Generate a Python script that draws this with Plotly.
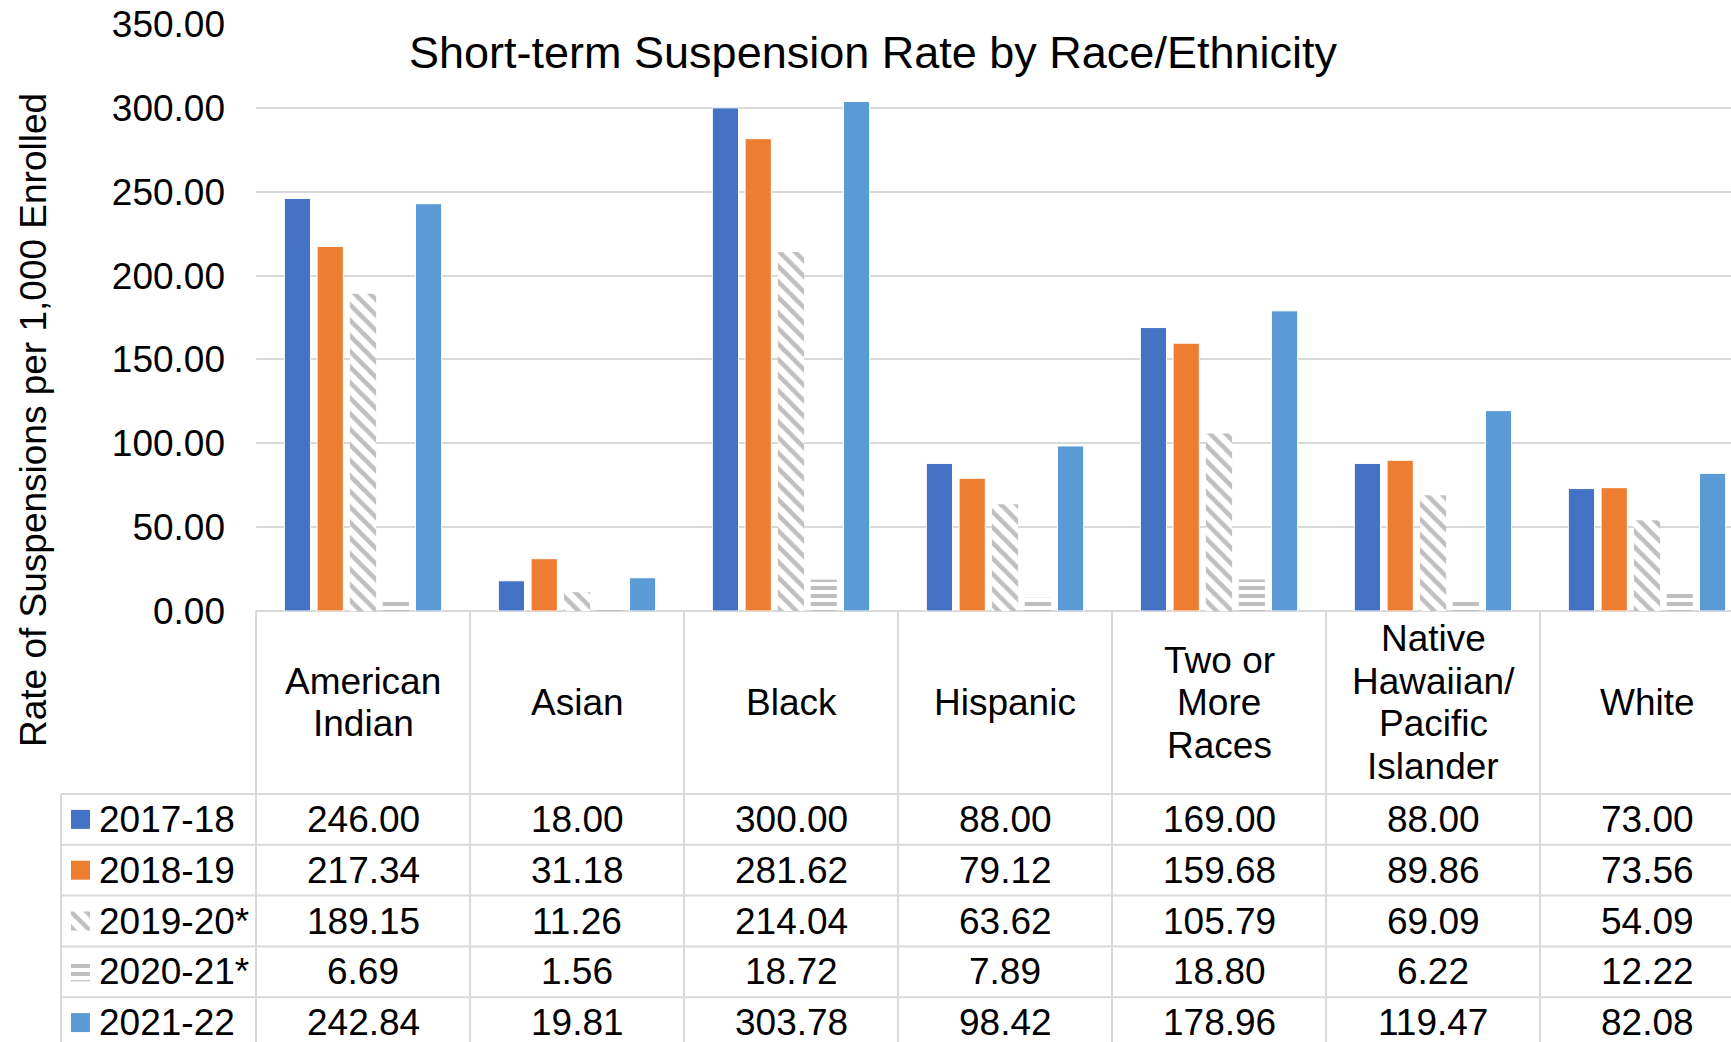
import plotly.graph_objects as go

# ---------------- data ----------------
categories = ["American Indian", "Asian", "Black", "Hispanic",
              "Two or More Races", "Native Hawaiian/Pacific Islander", "White"]
header_labels = ["American<br>Indian", "Asian", "Black", "Hispanic",
                 "Two or<br>More<br>Races", "Native<br>Hawaiian/<br>Pacific<br>Islander", "White"]
years = ["2017-18", "2018-19", "2019-20*", "2020-21*", "2021-22"]

rate_2017_18 = [246.00, 18.00, 300.00, 88.00, 169.00, 88.00, 73.00]
rate_2018_19 = [217.34, 31.18, 281.62, 79.12, 159.68, 89.86, 73.56]
rate_2019_20 = [189.15, 11.26, 214.04, 63.62, 105.79, 69.09, 54.09]
rate_2020_21 = [6.69, 1.56, 18.72, 7.89, 18.80, 6.22, 12.22]
rate_2021_22 = [242.84, 19.81, 303.78, 98.42, 178.96, 119.47, 82.08]
series = [rate_2017_18, rate_2018_19, rate_2019_20, rate_2020_21, rate_2021_22]

y_ticks = [0, 50, 100, 150, 200, 250, 300, 350]

title_text = "Short-term Suspension Rate by Race/Ethnicity"
y_title = "Rate of Suspensions per 1,000 Enrolled"

# ---------------- styles ----------------
W, H = 1731, 1042
FONT = "Arial, 'Liberation Sans', sans-serif"
FS = 37
LINE_H = 42.5
GRID = "#D9D9D9"
GRAY = "#BFBFBF"
markers = [
    dict(color="#4472C4", line=dict(color="white", width=1)),
    dict(color="#ED7D31", line=dict(color="white", width=1)),
    dict(color="white", line=dict(color="white", width=0),
         pattern=dict(shape="\\", fgcolor=GRAY, bgcolor="white", size=11, solidity=0.42, fillmode="replace")),
    dict(color="white", line=dict(color="white", width=0),
         pattern=dict(shape="-", fgcolor=GRAY, bgcolor="white", size=8, solidity=0.5, fillmode="replace")),
    dict(color="#5B9BD5", line=dict(color="white", width=1)),
]

# geometry (pixels)
plot_left, plot_top, plot_bottom = 256, 24, 611
cat_w = 214
table_left = 61
header_bottom = 794
row_h = 50.8

def px(x):
    return x / W

def py(y):
    return 1 - y / H

x_range = [-0.5, -0.5 + (W - plot_left) / cat_w]
x_dom = [px(plot_left), 1.0]
y_dom = [py(plot_bottom), py(plot_top)]

n_rows_vis = (H - header_bottom) / row_h
y2_range = [n_rows_vis - 0.5, -0.5]
y2_dom = [0.0, py(header_bottom)]

fig = go.Figure()
for name, vals, mk in zip(years, series, markers):
    fig.add_trace(go.Bar(x=categories, y=vals, name=name, marker=mk,
                         showlegend=False, hoverinfo="x+y+name"))

# legend swatches in table legend column (auxiliary axes)
for i, (name, mk) in enumerate(zip(years, markers)):
    fig.add_trace(go.Bar(x=[80.5], y=[0.374], base=[i - 0.187], width=[19], offset=-9.5,
                         marker=dict(mk, line=dict(width=0)), xaxis="x2", yaxis="y2",
                         showlegend=False, hoverinfo="skip"))

annotations = []
# y axis title
annotations.append(dict(text=y_title, x=px(33), y=py(420), xref="paper", yref="paper",
                        textangle=-90, showarrow=False, xanchor="center", yanchor="middle",
                        font=dict(size=FS, color="black", family=FONT)))
# header labels (one annotation per line for tighter line spacing)
for cat, lab in zip(categories, header_labels):
    lines = lab.split("<br>")
    n = len(lines)
    for j, ln in enumerate(lines):
        annotations.append(dict(text=ln, x=cat, y=py((plot_bottom + header_bottom) / 2),
                                xref="x", yref="paper", showarrow=False,
                                xanchor="center", yanchor="middle",
                                yshift=((n - 1) / 2 - j) * LINE_H,
                                font=dict(size=FS, color="black", family=FONT)))
# legend labels and values
for i, (name, vals) in enumerate(zip(years, series)):
    annotations.append(dict(text=name, x=97, y=i, xref="x2", yref="y2", showarrow=False,
                            xanchor="left", yanchor="middle",
                            font=dict(size=FS, color="black", family=FONT)))
    for cat, v in zip(categories, vals):
        annotations.append(dict(text=f"{v:.2f}", x=cat, y=i, xref="x", yref="y2",
                                showarrow=False, xanchor="center", yanchor="middle",
                                font=dict(size=FS, color="black", family=FONT)))

shapes = []
line = dict(color=GRID, width=2)
# vertical column lines
for k in range(len(categories) + 1):
    xb = k - 0.5
    frac = (xb - x_range[0]) / (x_range[1] - x_range[0])
    xp = x_dom[0] + frac * (x_dom[1] - x_dom[0])
    if xp <= 1.0:
        shapes.append(dict(type="line", xref="paper", yref="paper", x0=xp, x1=xp,
                           y0=py(plot_bottom), y1=0, line=line))
shapes.append(dict(type="line", xref="paper", yref="paper", x0=px(table_left), x1=px(table_left),
                   y0=py(header_bottom), y1=0, line=line))
# horizontal row lines
r = 0
while header_bottom + r * row_h < H:
    yy = py(header_bottom + r * row_h)
    shapes.append(dict(type="line", xref="paper", yref="paper", x0=px(table_left), x1=1,
                       y0=yy, y1=yy, line=line))
    r += 1

fig.update_layout(
    width=W, height=H,
    margin=dict(l=0, r=0, t=0, b=0, pad=0, autoexpand=False),
    paper_bgcolor="white", plot_bgcolor="rgba(0,0,0,0)",
    font=dict(family=FONT, size=FS, color="black"),
    barmode="group", bargap=0.234, bargroupgap=0.2,
    title=dict(text=title_text, x=px(873), y=py(52), xref="paper", yref="paper",
               xanchor="center", yanchor="middle", automargin=False,
               font=dict(size=45, color="black", family=FONT)),
    xaxis=dict(domain=x_dom, range=x_range, type="category", showticklabels=False,
               showgrid=False, zeroline=False, showline=False, fixedrange=True,
               automargin=False),
    yaxis=dict(domain=y_dom, range=[0, 350], tickvals=y_ticks, tickformat=".2f",
               showgrid=True, gridcolor=GRID, gridwidth=2,
               zeroline=True, zerolinecolor=GRID, zerolinewidth=2,
               ticks="", ticklabelstandoff=30, automargin=False,
               tickfont=dict(size=FS, color="black", family=FONT), fixedrange=True),
    xaxis2=dict(domain=[0, px(plot_left)], range=[0, plot_left], anchor="y2", visible=False,
                fixedrange=True, automargin=False),
    yaxis2=dict(domain=y2_dom, range=y2_range, anchor="x2", visible=False, fixedrange=True,
                automargin=False),
    annotations=annotations,
    shapes=shapes,
    showlegend=False,
)

fig.write_html("out.html", config={"displayModeBar": False},
               post_script="document.body.style.margin='0';document.body.style.overflow='hidden';")
